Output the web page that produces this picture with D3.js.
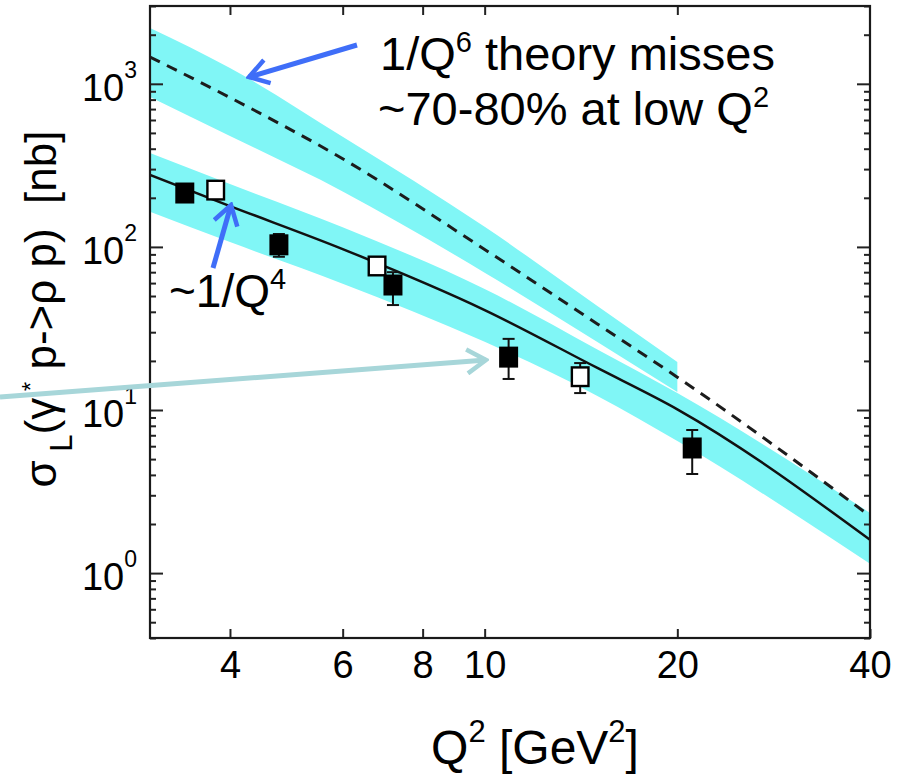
<!DOCTYPE html>
<html>
<head>
<meta charset="utf-8">
<script src="https://cdn.jsdelivr.net/npm/d3@7"></script>
<style>
  body { margin: 0; background: #fff; }
  text { font-family: "Liberation Sans", Arial, Helvetica, sans-serif; fill: #000; }
</style>
</head>
<body>
<div id="chart"></div>
<script>
// Datos: rejilla de Q^2 para las curvas teoricas
const qGrid = [3, 4, 6, 10, 15, 20, 40]
const solidCentral = [276, 178, 97, 41, 18.1, 10.1, 1.60]
const solidBandHigh = [377, 243, 132, 55.2, 23.5, 12.7, 2.34]
const solidBandLow = [164, 107, 59.5, 26.2, 12.2, 6.45, 1.14]
const dashedCentral = [1460, 824, 347, 96.5, 33.7, 15.9, 2.24]
const qGridShort = [3, 4, 6, 10, 15, 20]
const dashedBandHigh = [2198, 1250, 474, 133, 43.4, 19.7]
const dashedBandLow = [830, 479, 219, 69.5, 26.1, 12.9]

// puntos experimentales
const filledQ2 = [3.40, 4.77, 7.19, 10.9, 21.1]
const filledSigma = [214, 103, 58.4, 21.1, 5.85]
const filledErrLow = [200, 87, 44, 15.5, 4.05]
const filledErrHigh = [232, 120, 70, 27.3, 7.54]
const openQ2 = [3.80, 6.79, 14.1]
const openSigma = [223, 76.4, 16.0]
const openErrLow = [208, 70, 12.7]
const openErrHigh = [240, 84, 19.4]

// ticks
const xTickValues = [4, 6, 8, 10, 20, 40]
const xTopTicks = [4, 6, 8, 10, 20]
const yMajorTicks = [1, 10, 100, 1000]
const yTickExponents = ["0", "1", "2", "3"]

//Constantes
const width = 904
const height = 780
const margin = { top: 6, bottom: 142, left: 150, right: 34 }
const bandColor = "#80f6f6"
const blue = "#3f6ef8"
const teal = "#a7d6d9"

const svg = d3.select("#chart").append("svg")
    .attr("width", width)
    .attr("height", height)

//Escalas
const x = d3.scaleLog().domain([3, 40]).range([margin.left, width - margin.right])
const y = d3.scaleLog().domain([0.4, 3000]).range([height - margin.bottom, margin.top])

const defs = svg.append("defs")
defs.append("clipPath").attr("id", "plotClip")
    .append("rect")
    .attr("x", margin.left).attr("y", margin.top)
    .attr("width", width - margin.left - margin.right)
    .attr("height", height - margin.top - margin.bottom)

function arrowMarker(id, color) {
    defs.append("marker")
        .attr("id", id)
        .attr("viewBox", "-2 -14 24 28")
        .attr("refX", 19).attr("refY", 0)
        .attr("markerWidth", 24).attr("markerHeight", 28)
        .attr("markerUnits", "userSpaceOnUse")
        .attr("orient", "auto")
        .append("path")
        .attr("d", "M0,-12 L19,0 L0,12")
        .attr("fill", "none")
        .attr("stroke", color)
        .attr("stroke-width", 4.5)
        .attr("stroke-linejoin", "miter")
}
arrowMarker("arrowBlue", blue)
arrowMarker("arrowTeal", teal)

const plot = svg.append("g").attr("clip-path", "url(#plotClip)")

const toRows = (qs, lo, hi) => qs.map((q, i) => ({ q: q, lo: lo[i], hi: hi[i] }))
const area = d3.area()
    .x(d => x(d.q))
    .y0(d => y(d.lo))
    .y1(d => y(d.hi))
    .curve(d3.curveMonotoneX)

plot.append("path")
    .datum(toRows(qGridShort, dashedBandLow, dashedBandHigh))
    .attr("d", area)
    .attr("fill", bandColor)
plot.append("path")
    .datum(toRows(qGrid, solidBandLow, solidBandHigh))
    .attr("d", area)
    .attr("fill", bandColor)

const line = d3.line()
    .x(d => x(d.q))
    .y(d => y(d.v))
    .curve(d3.curveMonotoneX)

plot.append("path")
    .datum(qGrid.map((q, i) => ({ q: q, v: dashedCentral[i] })))
    .attr("d", line)
    .attr("fill", "none")
    .attr("stroke", "#1c1c1c")
    .attr("stroke-width", 3)
    .attr("stroke-dasharray", "11,8")

plot.append("path")
    .datum(qGrid.map((q, i) => ({ q: q, v: solidCentral[i] })))
    .attr("d", line)
    .attr("fill", "none")
    .attr("stroke", "#111")
    .attr("stroke-width", 2.5)

// puntos con barras de error
const markerSize = 19
function drawPoints(qs, vals, lo, hi, filled) {
    const data = qs.map((q, i) => ({ q: q, v: vals[i], lo: lo[i], hi: hi[i] }))
    const g = plot.append("g")
    const pts = g.selectAll("g").data(data).enter().append("g")
    pts.append("line")
        .attr("x1", d => x(d.q)).attr("x2", d => x(d.q))
        .attr("y1", d => y(d.lo)).attr("y2", d => y(d.hi))
        .attr("stroke", "#111").attr("stroke-width", 2)
    pts.selectAll(".cap").data(d => [d.lo, d.hi].map(v => ({ q: d.q, v: v })))
        .enter().append("line")
        .attr("class", "cap")
        .attr("x1", d => x(d.q) - 6).attr("x2", d => x(d.q) + 6)
        .attr("y1", d => y(d.v)).attr("y2", d => y(d.v))
        .attr("stroke", "#111").attr("stroke-width", 2)
    pts.append("rect")
        .attr("x", d => x(d.q) - markerSize / 2 + (filled ? 0 : 1.2))
        .attr("y", d => y(d.v) - markerSize / 2 - 1 + (filled ? 0 : 1.2))
        .attr("width", markerSize - (filled ? 0 : 2.4))
        .attr("height", markerSize + 2 - (filled ? 0 : 2.4))
        .attr("fill", filled ? "#000" : "#fff")
        .attr("stroke", "#000")
        .attr("stroke-width", filled ? 0 : 2.4)
}
drawPoints(openQ2, openSigma, openErrLow, openErrHigh, false)
drawPoints(filledQ2, filledSigma, filledErrLow, filledErrHigh, true)

//Ejes (ticks hacia dentro)
const axisGroup = svg.append("g").attr("class", "axisGroup")
const yMinorTicks = y.ticks().filter(v => !yMajorTicks.includes(v))

const bottomAxis = axisGroup.append("g")
    .attr("transform", `translate(0, ${height - margin.bottom})`)
    .call(d3.axisBottom(x).tickValues(xTickValues).tickSize(-9).tickPadding(13).tickFormat(d3.format("d")))
bottomAxis.selectAll("text").style("font-size", "38px").attr("fill", "#000")

axisGroup.append("g")
    .attr("transform", `translate(0, ${margin.top})`)
    .call(d3.axisTop(x).tickValues(xTopTicks).tickSize(-9).tickFormat(""))

axisGroup.append("g")
    .attr("transform", `translate(${margin.left}, 0)`)
    .call(d3.axisLeft(y).tickValues(yMajorTicks).tickSize(-13).tickFormat(""))
axisGroup.append("g")
    .attr("transform", `translate(${margin.left}, 0)`)
    .call(d3.axisLeft(y).tickValues(yMinorTicks).tickSize(-6).tickFormat(""))
axisGroup.append("g")
    .attr("transform", `translate(${width - margin.right}, 0)`)
    .call(d3.axisRight(y).tickValues(yMajorTicks).tickSize(-13).tickFormat(""))
axisGroup.append("g")
    .attr("transform", `translate(${width - margin.right}, 0)`)
    .call(d3.axisRight(y).tickValues(yMinorTicks).tickSize(-6).tickFormat(""))

axisGroup.selectAll(".domain").remove()
axisGroup.selectAll(".tick line").attr("stroke", "#222").attr("stroke-width", 2)

// etiquetas del eje y: 10^n
const yLabels = axisGroup.selectAll(".ylab")
    .data(yMajorTicks)
    .enter().append("text")
    .attr("class", "ylab")
    .attr("x", margin.left - 13)
    .attr("y", d => y(d) + 17)
    .attr("text-anchor", "end")
    .style("font-size", "38px")
yLabels.append("tspan").text("10")
yLabels.append("tspan")
    .attr("dy", -23)
    .style("font-size", "23px")
    .text((d, i) => yTickExponents[i])

// marco
svg.append("rect")
    .attr("x", margin.left).attr("y", margin.top)
    .attr("width", width - margin.left - margin.right)
    .attr("height", height - margin.top - margin.bottom)
    .attr("fill", "none")
    .attr("stroke", "#1a1a1a")
    .attr("stroke-width", 2.2)

// titulo eje x
const xTitle = svg.append("text")
    .attr("x", 535)
    .attr("y", 764)
    .attr("text-anchor", "middle")
    .style("font-size", "48px")
xTitle.append("tspan").text("Q")
xTitle.append("tspan").attr("dy", -22).style("font-size", "31px").text("2")
xTitle.append("tspan").attr("dy", 22).text(" [GeV")
xTitle.append("tspan").attr("dy", -22).style("font-size", "31px").text("2")
xTitle.append("tspan").attr("dy", 22).text("]")

// titulo eje y
const yTitle = svg.append("text")
    .attr("transform", "translate(56, 309) rotate(-90)")
    .attr("text-anchor", "middle")
    .attr("xml:space", "preserve")
    .style("font-size", "44px")
yTitle.append("tspan").text("σ")
yTitle.append("tspan").attr("dy", 16).style("font-size", "31px").text(" L")
yTitle.append("tspan").attr("dy", -16).text("(γ")
yTitle.append("tspan").attr("dy", -17).style("font-size", "24px").text(" *")
yTitle.append("tspan").attr("dy", 17).text(" p->ρ p)  [nb]")

// anotaciones
svg.append("line")
    .attr("x1", 0).attr("y1", 397).attr("x2", 486).attr("y2", 360)
    .attr("stroke", teal).attr("stroke-width", 5)
    .attr("marker-end", "url(#arrowTeal)")
svg.append("line")
    .attr("x1", 357).attr("y1", 45).attr("x2", 249).attr("y2", 77)
    .attr("stroke", blue).attr("stroke-width", 5)
    .attr("marker-end", "url(#arrowBlue)")
svg.append("line")
    .attr("x1", 213).attr("y1", 268).attr("x2", 231).attr("y2", 205)
    .attr("stroke", blue).attr("stroke-width", 5)
    .attr("marker-end", "url(#arrowBlue)")

const note1 = svg.append("text").attr("x", 380).attr("y", 70).style("font-size", "47px")
note1.append("tspan").text("1/Q")
note1.append("tspan").attr("dy", -18).style("font-size", "29px").text("6")
note1.append("tspan").attr("dy", 18).text(" theory misses")
const note2 = svg.append("text").attr("x", 378).attr("y", 125).style("font-size", "47px")
note2.append("tspan").text("~70-80% at low Q")
note2.append("tspan").attr("dy", -18).style("font-size", "29px").text("2")
const note3 = svg.append("text").attr("x", 169).attr("y", 307).style("font-size", "46px")
note3.append("tspan").text("~1/Q")
note3.append("tspan").attr("dy", -18).style("font-size", "29px").text("4")
</script>
</body>
</html>
